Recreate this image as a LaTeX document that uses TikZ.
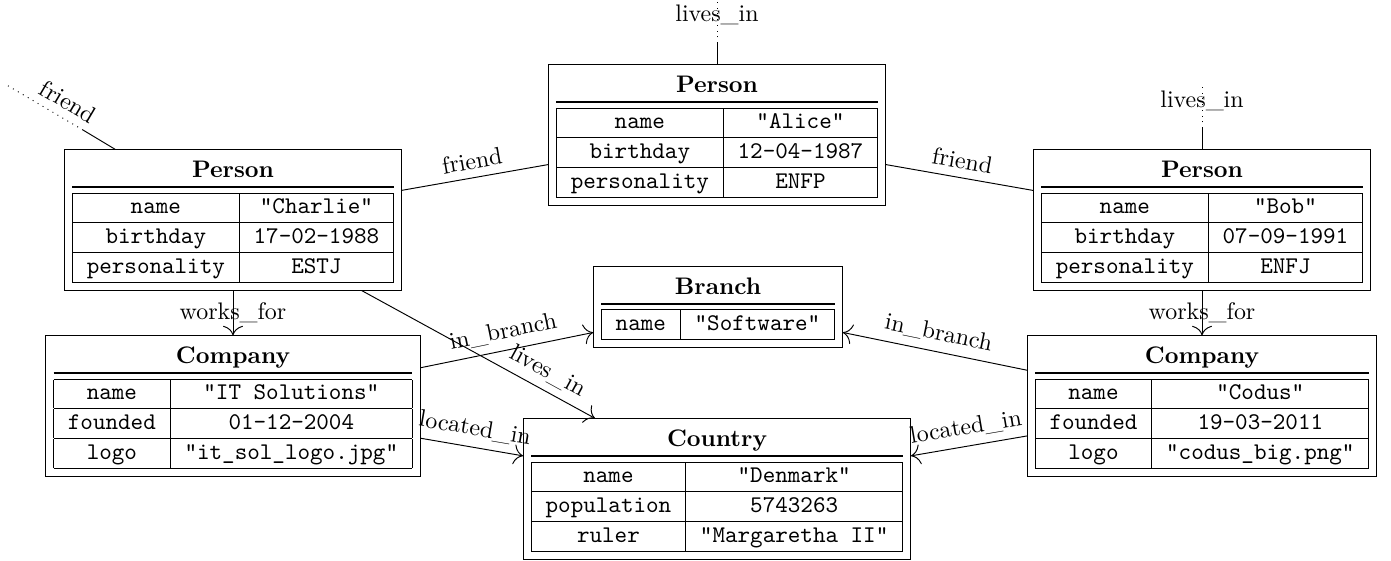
\documentclass[tikz,border=0pt]{standalone}
\usepackage{amsmath}
\usepackage{tikz}
\usetikzlibrary{arrows.meta}
\usetikzlibrary{calc}

\newcommand{\entitytable}[2]{%
	\begin{tabular}{@{}c@{}}
		\textbf{#1}\\ \noalign{\hrule height 0.7pt} \noalign{\vskip 2pt}
		{\ttfamily\begin{tabular}{|c|c|}\hline #2 \end{tabular}}
	\end{tabular}}

\begin{document}
\begin{tikzpicture}[x = 0.418pt, y = -0.418pt]
		\useasboundingbox (0, 0) rectangle (1391, 560);
		
		\begin{scope}[every node/.style={rectangle, draw, inner sep = 3.2pt}]
		\node (alice) at (717, 135) {\entitytable{Person}{name & "Alice" \\ \hline birthday & 12-04-1987 \\ \hline personality & ENFP \\ \hline}};
		\node (charlie) at (233, 220) {\entitytable{Person}{name & "Charlie" \\ \hline birthday & 17-02-1988 \\ \hline personality & ESTJ \\ \hline}};
		\node (bob) at (1202, 220) {\entitytable{Person}{name & "Bob" \\ \hline birthday & 07-09-1991 \\ \hline personality & ENFJ \\ \hline}};
		\node (branch) at (718, 307) {\entitytable{Branch}{name & "Software" \\ \hline}};
		\node (itsol) at (233, 406) {\entitytable{Company}{name & "IT Solutions" \\ \hline founded & 01-12-2004 \\ \hline logo & "it\_sol\_logo.jpg" \\ \hline}};
		\node (codus) at (1202, 406) {\entitytable{Company}{name & "Codus" \\ \hline founded & 19-03-2011 \\ \hline logo & "codus\_big.png" \\ \hline}};
		\node (denmark) at (717, 489) {\entitytable{Country}{name & "Denmark" \\ \hline population & 5743263 \\ \hline ruler & "Margaretha II" \\ \hline}};
		\end{scope}
		
		% loose ends
		\coordinate (friendmid) at (83, 130);
		\coordinate (friendend) at (5, 84);
		\coordinate (alicemid) at (717, 43);
		\coordinate (aliceend) at (717, 0);
		\coordinate (bobmid) at (1202, 128);
		\coordinate (bobend) at (1202, 85);
		
		\begin{scope}[>={To[scale=1.6]}]
		\path [-] 	(charlie) edge node [above, sloped] {friend} (alice);
		\path [-] 	(alice) edge node [above, sloped] {friend} (bob);
		\path [->] 	(charlie) edge node {works\_for} (itsol);
		\path [->] 	(bob) edge node {works\_for} (codus);
		\path [->] 	(charlie) edge node [pos = 0.76, above, sloped] {lives\_in} ($(denmark.north) + (-122, 0)$);
		\path [->] 	(itsol) edge node [above, sloped] {in\_branch} (branch);
		\path [->] 	(itsol) edge node [above, sloped] {located\_in} (denmark);
		\path [->] 	(codus) edge node [above, sloped] {in\_branch} (branch);
		\path [->] 	(codus) edge node [above, sloped] {located\_in} (denmark);
		
		\path [-] 	(charlie) edge (friendmid);
		\path [-, dotted] 	(friendmid) edge node [pos = 0.3, above, sloped] {friend} (friendend);
		\path [-] 	(alice) edge (alicemid);
		\path [-, dotted] 	(alicemid) edge node [pos = 0.65] {lives\_in} (aliceend);
		\path [-] 	(bob) edge (bobmid);
		\path [-, dotted] 	(bobmid) edge node [pos = 0.63] {lives\_in} (bobend);
		\end{scope}
		
\end{tikzpicture}
\end{document}
